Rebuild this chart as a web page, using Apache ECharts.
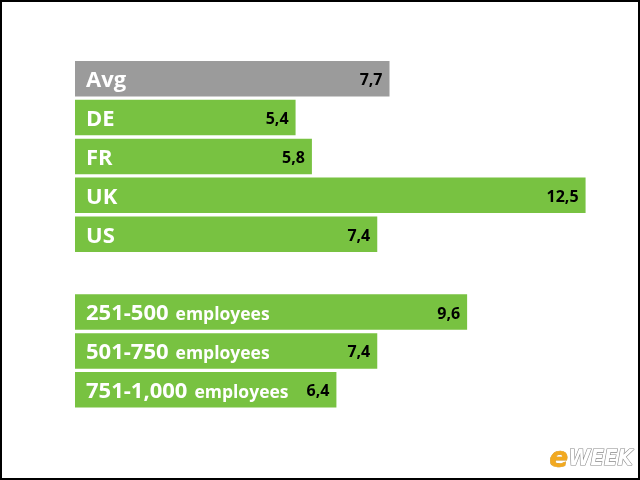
<!DOCTYPE html>
<html>
<head>
<meta charset="utf-8">
<script src="https://cdn.jsdelivr.net/npm/echarts@6/dist/echarts.min.js"></script>
<style>
html,body{margin:0;padding:0;background:#fff;}
#main{width:640px;height:480px;}
</style>
</head>
<body>
<div id="main"></div>
<script>
// rows, top to bottom; '' is the blank spacer row
var categories = ['Avg', 'DE', 'FR', 'UK', 'US', '', '251-500', '501-750', '751-1,000'];
var values = [7.7, 5.4, 5.8, 12.5, 7.4, null, 9.6, 7.4, 6.4];
var suffixes = ['', '', '', '', '', '', 'employees', 'employees', 'employees'];

var green = '#78c241';
var gray = '#9b9b9b';

var barData = [];
for (var i = 0; i < values.length; i++) {
	if (values[i] == null) { barData.push('-'); continue; }
	barData.push({
		value: values[i],
		itemStyle: { color: i == 0 ? gray : green }
	});
}

var chart = echarts.init(document.getElementById('main'));
var option = {
	animation: false,
	grid: { left: 75, right: 34, top: 59.3, bottom: 70.8 },
	xAxis: {
		type: 'value', min: 0, max: 13,
		show: false
	},
	yAxis: {
		type: 'category', data: categories, inverse: true,
		show: false
	},
	series: [
		{
			type: 'bar',
			data: barData,
			barWidth: 35.5,
			label: {
				show: true,
				position: 'insideRight',
				distance: 7,
				offset: [0, 2],
				color: '#000',
				fontFamily: 'Open Sans',
				fontWeight: 'bold',
				fontSize: 16,
				formatter: function (p) {
					return String(p.value).replace('.', ',');
				}
			}
		},
		{
			// same bars again, only to carry the name label on the left
			type: 'bar',
			data: barData.map(function (d) { return d == '-' ? '-' : d.value; }),
			barWidth: 35.5,
			barGap: '-100%',
			itemStyle: { color: 'rgba(0,0,0,0)' },
			silent: true,
			label: {
				show: true,
				position: 'insideLeft',
				distance: 11,
				offset: [0, 2],
				formatter: function (p) {
					var s = suffixes[p.dataIndex];
					return s ? '{a|' + p.name + '}{b|' + s + '}' : '{a|' + p.name + '}';
				},
				rich: {
					a: { color: '#fff', fontFamily: 'Open Sans', fontWeight: 'bold', fontSize: 22 },
					b: { color: '#fff', fontFamily: 'Open Sans', fontWeight: 'bold', fontSize: 17.5, padding: [3, 0, 0, 7] }
				}
			}
		}
	],
	graphic: [
		{
			type: 'rect', silent: true,
			shape: { x: 1, y: 1, width: 638, height: 478 },
			style: { fill: 'none', stroke: '#000', lineWidth: 2 }
		},
		{
			type: 'text', left: 549, top: 445,
			style: {
				text: 'e', fill: '#f2a91f', font: 'italic bold 28px "DejaVu Sans"',
				stroke: '#c98a12', lineWidth: 0.6
			}
		},
		{
			type: 'text', left: 568, top: 448,
			style: {
				text: 'WEEK', fill: '#fff', font: 'italic bold 22px "DejaVu Sans Condensed"',
				stroke: '#8a8a8a', lineWidth: 1.2,
				shadowColor: 'rgba(0,0,0,0.4)', shadowBlur: 2, shadowOffsetX: 1, shadowOffsetY: 1
			}
		}
	]
};
chart.setOption(option);
</script>
</body>
</html>
